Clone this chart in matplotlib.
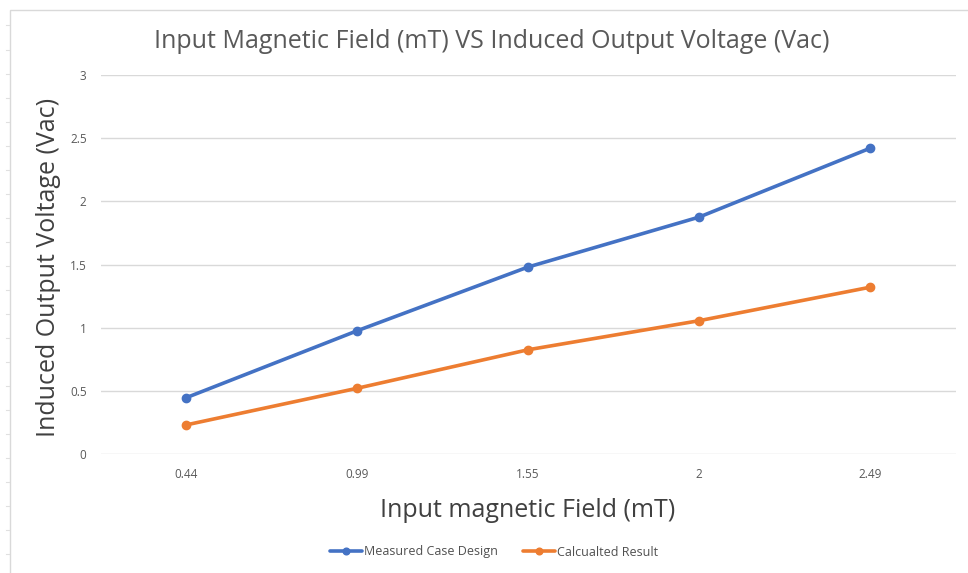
import matplotlib
matplotlib.use("Agg")
import matplotlib.pyplot as plt
from matplotlib.patches import Rectangle
from matplotlib.lines import Line2D

categories = ["0.44", "0.99", "1.55", "2", "2.49"]
measured = [0.445, 0.975, 1.48, 1.875, 2.42]
calculated = [0.23, 0.52, 0.825, 1.055, 1.32]
yticks = [0, 0.5, 1, 1.5, 2, 2.5, 3]
ytick_labels = ["0", "0.5", "1", "1.5", "2", "2.5", "3"]

plt.rcParams['font.family'] = ['Open Sans', 'DejaVu Sans']

W, H = 968, 573
fig = plt.figure(figsize=(W / 100, H / 100), dpi=100)
fig.patch.set_facecolor("white")

# outer chart frame (Excel-like)
fig.add_artist(Rectangle((10 / W, -0.01), 1.0, 1 - 10 / H + 0.01, transform=fig.transFigure,
                         fill=False, edgecolor="#D9D9D9", linewidth=1.0))
for yy in [25, 50, 74, 98, 122, 146, 170, 194, 218, 242, 266, 290, 314, 338, 362, 386, 410, 434, 458, 482, 506, 530, 554]:
    fig.add_artist(Line2D([6 / W, 9 / W], [1 - yy / H, 1 - yy / H], transform=fig.transFigure,
                          color="#E0E0E0", linewidth=0.8))

ax = fig.add_axes([100.5 / W, 1 - 454 / H, 855 / W, 379 / H])
x = list(range(len(categories)))
ax.plot(x, measured, color="#4472C4", linewidth=2.6, marker="o", markersize=6, label="Measured Case Design",
        solid_capstyle="round", zorder=3)
ax.plot(x, calculated, color="#ED7D31", linewidth=2.6, marker="o", markersize=6, label="Calcualted Result",
        solid_capstyle="round", zorder=3)

ax.set_xlim(-0.5, len(categories) - 0.5)
ax.set_ylim(0, 3)
ax.set_yticks(yticks)
ax.set_yticklabels(ytick_labels)
ax.set_xticks(x)
ax.set_xticklabels(categories)
ax.grid(axis="y", color="#D9D9D9", linewidth=1.0)
ax.set_axisbelow(True)
for s in ax.spines.values():
    s.set_visible(False)
ax.tick_params(axis="both", length=0, labelsize=8.5, colors="#595959")
ax.tick_params(axis="y", pad=10)
ax.tick_params(axis="x", pad=10)

ax.set_xlabel("Input magnetic Field (mT)", fontsize=18, color="#404040", labelpad=12)
ax.set_ylabel("Induced Output Voltage (Vac)", fontsize=18, color="#404040")
ax.yaxis.set_label_coords((61 - 100.5) / 855, (454 - 267) / 379)
fig.text(492 / W, 1 - 42 / H, "Input Magnetic Field (mT) VS Induced Output Voltage (Vac)",
         ha="center", va="center", fontsize=18, color="#595959")

leg = fig.legend(loc="center", bbox_to_anchor=(494 / W, 1 - 552 / H), ncol=2, frameon=False,
                 fontsize=9, handlelength=2.6, handletextpad=0.15, columnspacing=2.0, markerscale=0.8)
for t in leg.get_texts():
    t.set_color("#505050")

fig.savefig("out.png", dpi=100, facecolor="white")
